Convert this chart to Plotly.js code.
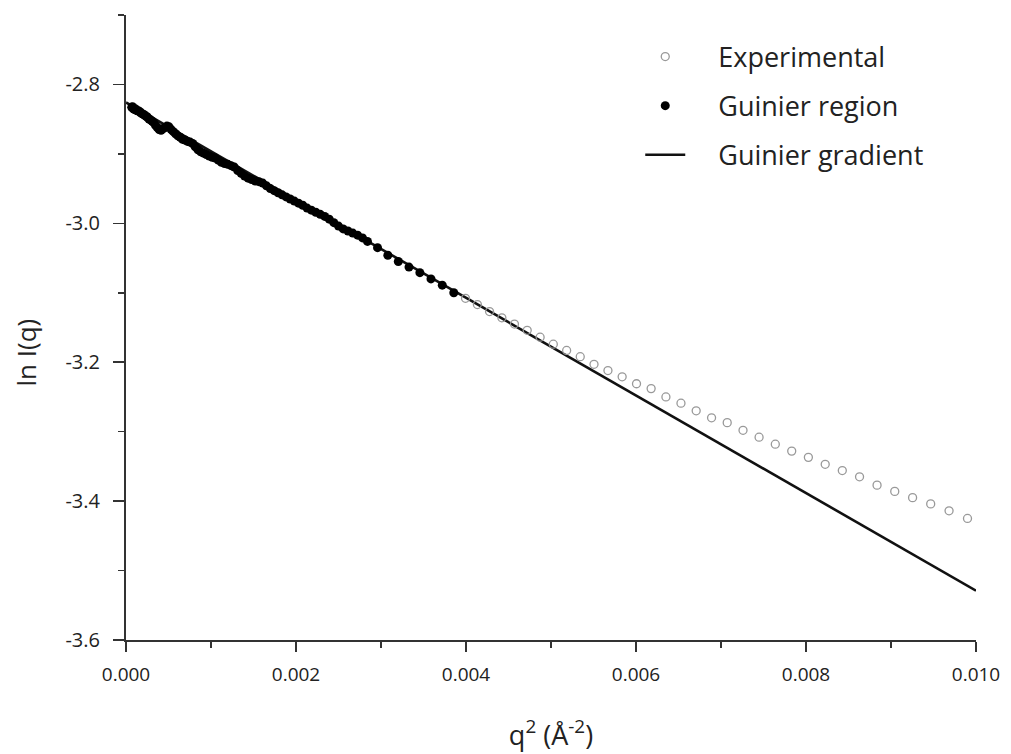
<!DOCTYPE html>
<html>
<head>
<meta charset="utf-8">
<script src="https://cdn.plot.ly/plotly-3.0.1.min.js"></script>
<style>
  html, body { margin: 0; padding: 0; background: #fff; }
  #chart { width: 1011px; height: 754px; }
</style>
</head>
<body>
<div id="chart"></div>
<script>
// Guinier region: q^2 (Å^-2) and ln I(q)
const q2Guinier = [0.0000672, 0.0000765, 0.0000865, 0.0000970, 0.0001082, 0.0001200, 0.0001323, 0.0001453,
  0.0001588, 0.0001730, 0.0001877, 0.0002030, 0.0002190, 0.0002356, 0.0002528, 0.0002706, 0.0002890,
  0.0003080, 0.0003276, 0.0003478, 0.0003686, 0.0003900, 0.0004121, 0.0004348, 0.0004580, 0.0004818,
  0.0005063, 0.0005314, 0.0005570, 0.0005833, 0.0006101, 0.0006376, 0.0006656, 0.0006943, 0.0007236,
  0.0007535, 0.0007840, 0.0008151, 0.0008468, 0.0008791, 0.0009120, 0.0009455, 0.0009797, 0.0010144,
  0.0010498, 0.0010857, 0.0011223, 0.0011594, 0.0011972, 0.0012356, 0.0012745, 0.0013141, 0.0013542,
  0.0013950, 0.0014364, 0.0014784, 0.0015210, 0.0015642, 0.0016080, 0.0016524, 0.0016974, 0.0017430,
  0.0017893, 0.0018361, 0.0018836, 0.0019317, 0.0019803, 0.0020296, 0.0020794, 0.0021299, 0.0021809,
  0.0022326, 0.0022848, 0.0023377, 0.0023912, 0.0024453, 0.0025000, 0.0025553, 0.0026112, 0.0026677,
  0.0027248, 0.0027826, 0.0028409, 0.0029594, 0.0030803, 0.0032036, 0.0033293, 0.0034574, 0.0035880,
  0.0037210, 0.0038564];
const lnIGuinier = [-2.833, -2.832, -2.835, -2.836, -2.835, -2.837, -2.838, -2.838,
  -2.839, -2.841, -2.842, -2.843, -2.844, -2.846, -2.847, -2.850, -2.851,
  -2.853, -2.855, -2.859, -2.862, -2.865, -2.866, -2.864, -2.862, -2.860,
  -2.861, -2.865, -2.868, -2.871, -2.874, -2.876, -2.879, -2.880, -2.882,
  -2.883, -2.885, -2.890, -2.894, -2.897, -2.899, -2.901, -2.903, -2.905,
  -2.906, -2.909, -2.912, -2.914, -2.915, -2.917, -2.919, -2.924, -2.928,
  -2.932, -2.935, -2.937, -2.939, -2.940, -2.942, -2.946, -2.950, -2.953,
  -2.956, -2.959, -2.962, -2.965, -2.968, -2.971, -2.974, -2.978, -2.981,
  -2.984, -2.987, -2.990, -2.994, -2.999, -3.004, -3.008, -3.011, -3.014,
  -3.017, -3.021, -3.026, -3.035, -3.046, -3.055, -3.063, -3.071, -3.080,
  -3.089, -3.100];

// Experimental points beyond the Guinier region
const q2Experimental = [0.003994, 0.004134, 0.004277, 0.004422, 0.004570, 0.004720, 0.004872, 0.005027,
  0.005184, 0.005344, 0.005506, 0.005670, 0.005837, 0.006006, 0.006178, 0.006352, 0.006529, 0.006708,
  0.006889, 0.007073, 0.007259, 0.007448, 0.007639, 0.007832, 0.008028, 0.008226, 0.008427, 0.008630,
  0.008836, 0.009044, 0.009254, 0.009467, 0.009683, 0.009900];
const lnIExperimental = [-3.108, -3.117, -3.127, -3.136, -3.145, -3.154, -3.164, -3.174,
  -3.183, -3.192, -3.203, -3.212, -3.221, -3.231, -3.238, -3.250, -3.259, -3.270,
  -3.280, -3.287, -3.298, -3.308, -3.318, -3.328, -3.337, -3.347, -3.356, -3.365,
  -3.377, -3.386, -3.395, -3.404, -3.414, -3.425];

// Straight-line Guinier fit, extended over the full q^2 range
const q2Fit = [0.0, 0.010];
const lnIFit = [-2.826, -3.529];

// Axis ticks
const xTickVals = [0, 0.002, 0.004, 0.006, 0.008, 0.010];
const xTickText = ['0.000', '0.002', '0.004', '0.006', '0.008', '0.010'];
const yTickVals = [-3.6, -3.4, -3.2, -3.0, -2.8];
const yTickText = ['-3.6', '-3.4', '-3.2', '-3.0', '-2.8'];

const legendNames = ['Experimental', 'Guinier region', 'Guinier gradient'];
const yTitle = 'ln I(q)';
const xTitle = 'q<sup>2</sup> (Å<sup>-2</sup>)';

const FONT = '"Open Sans", "Noto Sans", sans-serif';
// non-breaking spaces widen the gap between legend symbol and label
const PAD = '\u00a0\u00a0\u00a0\u00a0';

const traces = [
  {
    x: q2Fit, y: lnIFit, type: 'scatter', mode: 'lines',
    name: PAD + legendNames[2], legendgroup: 'c', legendrank: 3,
    line: { color: '#111111', width: 2.6 }
  },
  {
    x: q2Experimental, y: lnIExperimental, type: 'scatter', mode: 'markers',
    name: PAD + legendNames[0], legendgroup: 'a', legendrank: 1,
    marker: { symbol: 'circle-open', size: 8, color: '#999999', line: { width: 1.3, color: '#999999' } }
  },
  {
    x: q2Guinier, y: lnIGuinier, type: 'scatter', mode: 'markers',
    name: PAD + legendNames[1], legendgroup: 'b', legendrank: 2,
    marker: { symbol: 'circle', size: 9, color: '#000000' }
  }
];

const layout = {
  width: 1011, height: 754,
  margin: { l: 126, r: 35, t: 15, b: 114 },
  paper_bgcolor: '#ffffff', plot_bgcolor: '#ffffff',
  font: { family: FONT, color: '#222222' },
  showlegend: true,
  legend: {
    x: 0.605, y: 0.972, xanchor: 'left', yanchor: 'top',
    font: { family: FONT, size: 27, color: '#222222' },
    itemwidth: 40, tracegroupgap: 11,
    bgcolor: 'rgba(0,0,0,0)', borderwidth: 0
  },
  xaxis: {
    range: [0, 0.010], autorange: false,
    tickmode: 'array', tickvals: xTickVals, ticktext: xTickText,
    ticks: 'outside', ticklen: 10, tickwidth: 1.6, tickcolor: '#333333',
    minor: { tickmode: 'linear', tick0: 0, dtick: 0.001, ticks: 'outside', ticklen: 6, tickwidth: 1.6, tickcolor: '#333333' },
    showline: true, linecolor: '#333333', linewidth: 2,
    showgrid: false, zeroline: false,
    tickfont: { family: FONT, size: 19, color: '#222222' },
    ticklabelstandoff: 6,
    title: { text: xTitle, font: { family: FONT, size: 27, color: '#222222' }, standoff: 40 }
  },
  yaxis: {
    range: [-3.6, -2.7], autorange: false,
    tickmode: 'array', tickvals: yTickVals, ticktext: yTickText,
    ticks: 'outside', ticklen: 11, tickwidth: 1.6, tickcolor: '#333333',
    minor: { tickmode: 'linear', tick0: -3.6, dtick: 0.1, ticks: 'outside', ticklen: 6, tickwidth: 1.6, tickcolor: '#333333' },
    showline: true, linecolor: '#333333', linewidth: 2,
    showgrid: false, zeroline: false,
    tickfont: { family: FONT, size: 20, color: '#222222' },
    ticklabelstandoff: 9
  },
  // y-axis title, placed a little below the axis midpoint
  annotations: [{
    text: yTitle, textangle: -90,
    xref: 'paper', yref: 'paper', x: 0, y: 0.46,
    xanchor: 'center', yanchor: 'middle', xshift: -101,
    showarrow: false,
    font: { family: FONT, size: 26, color: '#222222' }
  }]
};

Plotly.newPlot('chart', traces, layout, { displayModeBar: false, staticPlot: true });
</script>
</body>
</html>
